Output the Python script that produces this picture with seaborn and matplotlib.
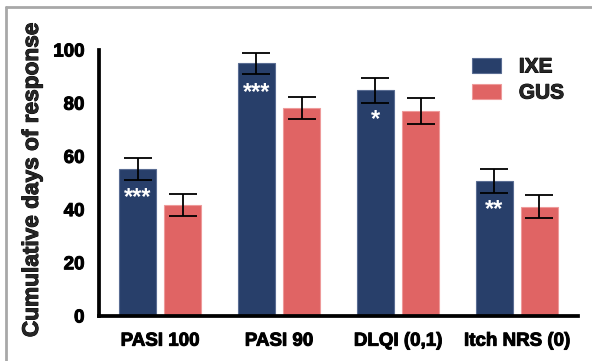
import matplotlib
matplotlib.use("Agg")
import matplotlib.pyplot as plt
import matplotlib.patheffects as pe
import seaborn as sns
import pandas as pd
from matplotlib.lines import Line2D
from matplotlib.patches import Patch

categories = ["PASI 100", "PASI 90", "DLQI (0,1)", "Itch NRS (0)"]
groups = ["IXE", "GUS"]
ixe_values = [55.3, 95.0, 84.8, 50.8]
gus_values = [41.8, 78.3, 77.2, 41.1]
ixe_err = [4.2, 4.0, 4.7, 4.4]
gus_err = [4.2, 4.2, 4.9, 4.4]
ixe_sig = ["***", "***", "*", "**"]
yticks = [0, 20, 40, 60, 80, 100]

colors = {"IXE": "#283F6A", "GUS": "#E06464"}
edges = {"IXE": "#5a6d93", "GUS": "#ee9a9a"}

df = pd.DataFrame({
    "category": categories * 2,
    "group": ["IXE"] * 4 + ["GUS"] * 4,
    "value": ixe_values + gus_values,
    "err": ixe_err + gus_err,
})

sns.set_theme(style="white")
plt.rcParams['font.family'] = ['Liberation Sans', 'DejaVu Sans']
plt.rcParams['font.weight'] = 'bold'

def thick(color="black", lw=0.7):
    return [pe.withStroke(linewidth=lw, foreground=color)]

fig = plt.figure(figsize=(5.92, 3.61), dpi=100)
ax = fig.add_axes([99/592, 1-316/361, (578-99)/592, (316-50)/361])

sns.barplot(data=df, x="category", y="value", hue="group", order=categories,
            hue_order=groups, palette=colors, width=0.757, gap=0.177,
            errorbar=None, ax=ax, saturation=1, linewidth=0.8,
            legend=False)

for cont, g in zip(ax.containers, groups):
    for p in cont:
        p.set_edgecolor(edges[g])

# error bars
for cont, g in zip(ax.containers, groups):
    sub = df[df.group == g].set_index("category").loc[categories]
    xs = [p.get_x() + p.get_width() / 2 for p in cont]
    ax.errorbar(xs, sub["value"].values, yerr=sub["err"].values, fmt="none",
                ecolor="black", elinewidth=1.3, capsize=10, capthick=1.3,
                clip_on=False, zorder=5)

# significance stars
for p, s, v in zip(ax.containers[0], ixe_sig, ixe_values):
    ax.text(p.get_x() + p.get_width() / 2, v - 13.3, s, color="white",
            ha="center", va="baseline", fontsize=17, fontweight="bold", zorder=6)

ax.set_ylim(0, 100)
ax.set_xlim(-0.513, 3.513)
ax.set_yticks(yticks)
ax.set_yticklabels([str(t) for t in yticks], fontsize=13.5, fontweight="bold")
ax.set_xticks(range(len(categories)))
ax.set_xticklabels(categories, fontsize=13.5, fontweight="bold")
ax.set_xlabel("")
ax.set_ylabel("Cumulative days of response", fontsize=16.3, fontweight="bold")
ax.yaxis.set_label_coords(-0.117, 0.51)

for t in ax.get_xticklabels() + ax.get_yticklabels() + [ax.yaxis.label]:
    t.set_path_effects(thick())

for side in ["top", "right"]:
    ax.spines[side].set_visible(False)
for side in ["left", "bottom"]:
    ax.spines[side].set_linewidth(2.7)
    ax.spines[side].set_color("black")
ax.tick_params(axis="both", which="major", direction="out", length=7, width=2.7,
               color="black", labelcolor="black")
ax.tick_params(axis="y", pad=3.5)
ax.tick_params(axis="x", pad=5)
ax.grid(False)

handles = [Patch(facecolor=colors[g], edgecolor=edges[g], linewidth=0.8) for g in groups]
leg = fig.legend(handles, groups, loc="upper left", bbox_to_anchor=(472/592, 1-57.5/361),
                 bbox_transform=fig.transFigure, frameon=False,
                 fontsize=15, handlelength=1.4, handleheight=0.72,
                 handletextpad=0.85, labelspacing=0.34, borderaxespad=0, borderpad=0)
for t in leg.get_texts():
    t.set_fontweight("bold")
    t.set_path_effects(thick())

# figure border (top and left lines)
fig.add_artist(Line2D([6/592, 1], [1-7/361, 1-7/361], transform=fig.transFigure,
                      color="#a8a8a8", linewidth=2))
fig.add_artist(Line2D([6/592, 6/592], [0, 1-7/361], transform=fig.transFigure,
                      color="#a8a8a8", linewidth=2))

fig.savefig("out.png", dpi=100)
